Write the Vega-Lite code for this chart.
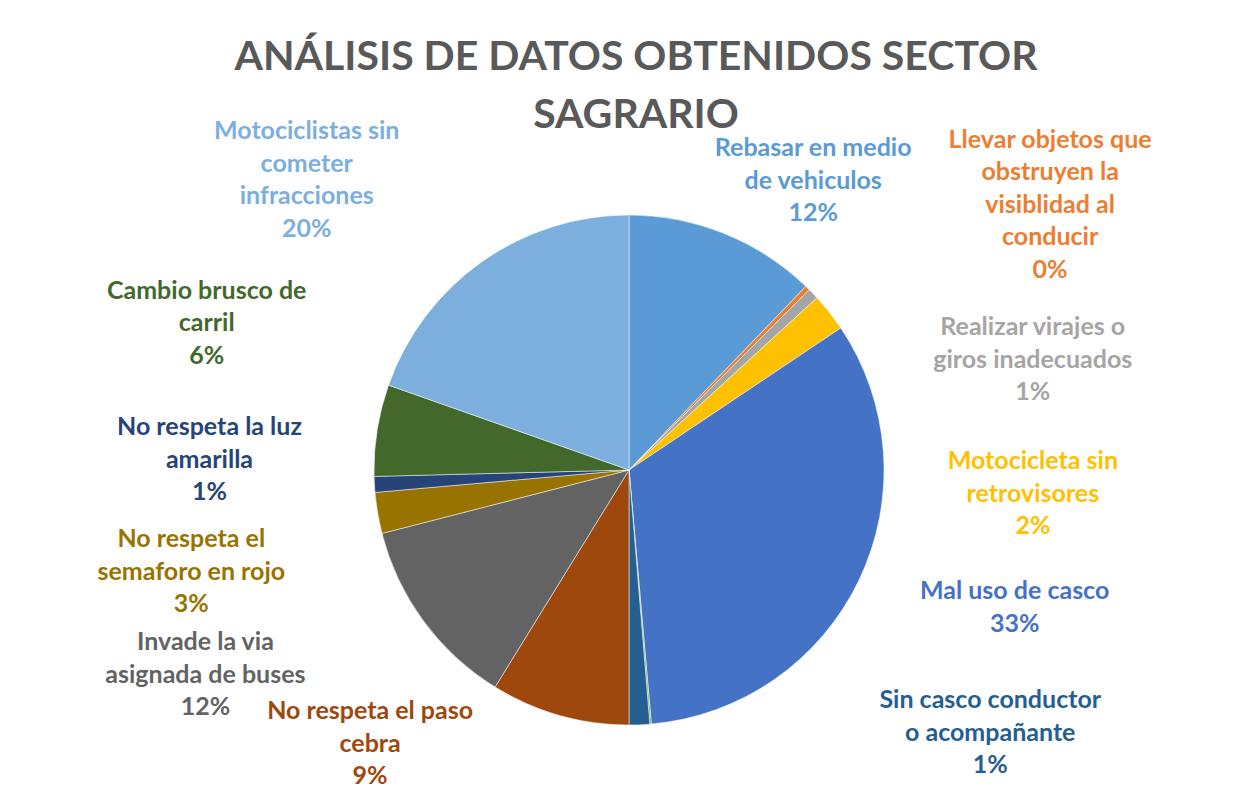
{
  "$schema": "https://vega.github.io/schema/vega-lite/v6.json",
  "autosize": "none",
  "width": 1234,
  "height": 646,
  "padding": {"top": 147, "left": 12, "right": 0, "bottom": 0},
  "background": "white",
  "config": {"view": {"stroke": null}},
  "title": {
    "text": ["ANÁLISIS DE DATOS OBTENIDOS SECTOR", "SAGRARIO"],
    "font": "Lato",
    "fontSize": 41,
    "fontWeight": "bold",
    "color": "#595959",
    "lineHeight": 58,
    "anchor": "middle",
    "dx": 7,
    "offset": -90
  },
  "data": {
    "values": [
      {"k": 1, "cat": "Rebasar en medio de vehiculos", "pct": 12.2, "label": "Rebasar en medio\nde vehiculos\n12%"},
      {"k": 2, "cat": "Llevar objetos que obstruyen la visiblidad al conducir", "pct": 0.3, "label": "Llevar objetos que\nobstruyen la\nvisiblidad al\nconducir\n0%"},
      {"k": 3, "cat": "Realizar virajes o giros inadecuados", "pct": 0.7, "label": "Realizar virajes o\ngiros inadecuados\n1%"},
      {"k": 4, "cat": "Motocicleta sin retrovisores", "pct": 2.4, "label": "Motocicleta sin\nretrovisores\n2%"},
      {"k": 5, "cat": "Mal uso de casco", "pct": 33.0, "label": "Mal uso de casco\n33%"},
      {"k": 6, "cat": "Otro", "pct": 0.1, "label": ""},
      {"k": 7, "cat": "Sin casco conductor o acompañante", "pct": 1.3, "label": "Sin casco conductor\no acompañante\n1%"},
      {"k": 8, "cat": "No respeta el paso cebra", "pct": 8.8, "label": "No respeta el paso\ncebra\n9%"},
      {"k": 9, "cat": "Invade la via asignada de buses", "pct": 12.2, "label": "Invade la via\nasignada de buses\n12%"},
      {"k": 10, "cat": "No respeta el semaforo en rojo", "pct": 2.6, "label": "No respeta el\nsemaforo en rojo\n3%"},
      {"k": 11, "cat": "No respeta la luz amarilla", "pct": 1.0, "label": "No respeta la luz\namarilla\n1%"},
      {"k": 12, "cat": "Cambio brusco de carril", "pct": 5.8, "label": "Cambio brusco de\ncarril\n6%"},
      {"k": 13, "cat": "Motociclistas sin cometer infracciones", "pct": 19.6, "label": "Motociclistas sin\ncometer\ninfracciones\n20%"}
    ]
  },
  "encoding": {
    "theta": {"field": "pct", "type": "quantitative", "stack": true},
    "order": {"field": "k", "type": "quantitative"},
    "color": {
      "field": "cat",
      "type": "nominal",
      "legend": null,
      "scale": {
        "domain": ["Rebasar en medio de vehiculos", "Llevar objetos que obstruyen la visiblidad al conducir", "Realizar virajes o giros inadecuados", "Motocicleta sin retrovisores", "Mal uso de casco", "Otro", "Sin casco conductor o acompañante", "No respeta el paso cebra", "Invade la via asignada de buses", "No respeta el semaforo en rojo", "No respeta la luz amarilla", "Cambio brusco de carril", "Motociclistas sin cometer infracciones"],
        "range": ["#5B9BD5", "#ED7D31", "#A5A5A5", "#FFC000", "#4472C4", "#70AD47", "#255E91", "#9E480E", "#636363", "#997300", "#264478", "#43682B", "#7CAFDD"]
      }
    }
  },
  "layer": [
    {"mark": {"type": "arc", "outerRadius": 255, "stroke": "white", "strokeWidth": 0.5}},
    {"mark": {"type": "text", "radius": 300, "dx": 72, "dy": -43.5, "font": "Lato", "fontSize": 25, "fontWeight": "bold", "lineBreak": "\n", "lineHeight": 32.5, "align": "center", "baseline": "middle"},
     "encoding": {"text": {"condition": {"test": "datum.k === 1", "field": "label"}, "value": ""}}},
    {"mark": {"type": "text", "radius": 300, "dx": 211, "dy": -116, "font": "Lato", "fontSize": 25, "fontWeight": "bold", "lineBreak": "\n", "lineHeight": 32.5, "align": "center", "baseline": "middle"},
     "encoding": {"text": {"condition": {"test": "datum.k === 2", "field": "label"}, "value": ""}}},
    {"mark": {"type": "text", "radius": 300, "dx": 187, "dy": 64.5, "font": "Lato", "fontSize": 25, "fontWeight": "bold", "lineBreak": "\n", "lineHeight": 32.5, "align": "center", "baseline": "middle"},
     "encoding": {"text": {"condition": {"test": "datum.k === 3", "field": "label"}, "value": ""}}},
    {"mark": {"type": "text", "radius": 300, "dx": 168, "dy": 176.5, "font": "Lato", "fontSize": 25, "fontWeight": "bold", "lineBreak": "\n", "lineHeight": 32.5, "align": "center", "baseline": "middle"},
     "encoding": {"text": {"condition": {"test": "datum.k === 4", "field": "label"}, "value": ""}}},
    {"mark": {"type": "text", "radius": 300, "dx": 115, "dy": -8.25, "font": "Lato", "fontSize": 25, "fontWeight": "bold", "lineBreak": "\n", "lineHeight": 32.5, "align": "center", "baseline": "middle"},
     "encoding": {"text": {"condition": {"test": "datum.k === 5", "field": "label"}, "value": ""}}},
    {"mark": {"type": "text", "radius": 300, "dx": 349, "dy": -69.5, "font": "Lato", "fontSize": 25, "fontWeight": "bold", "lineBreak": "\n", "lineHeight": 32.5, "align": "center", "baseline": "middle"},
     "encoding": {"text": {"condition": {"test": "datum.k === 7", "field": "label"}, "value": ""}}},
    {"mark": {"type": "text", "radius": 300, "dx": -177, "dy": -47.5, "font": "Lato", "fontSize": 25, "fontWeight": "bold", "lineBreak": "\n", "lineHeight": 32.5, "align": "center", "baseline": "middle"},
     "encoding": {"text": {"condition": {"test": "datum.k === 8", "field": "label"}, "value": ""}}},
    {"mark": {"type": "text", "radius": 300, "dx": -182, "dy": -5.5, "font": "Lato", "fontSize": 25, "fontWeight": "bold", "lineBreak": "\n", "lineHeight": 32.5, "align": "center", "baseline": "middle"},
     "encoding": {"text": {"condition": {"test": "datum.k === 9", "field": "label"}, "value": ""}}},
    {"mark": {"type": "text", "radius": 300, "dx": -142, "dy": 18.5, "font": "Lato", "fontSize": 25, "fontWeight": "bold", "lineBreak": "\n", "lineHeight": 32.5, "align": "center", "baseline": "middle"},
     "encoding": {"text": {"condition": {"test": "datum.k === 10", "field": "label"}, "value": ""}}},
    {"mark": {"type": "text", "radius": 300, "dx": -120, "dy": -59.5, "font": "Lato", "fontSize": 25, "fontWeight": "bold", "lineBreak": "\n", "lineHeight": 32.5, "align": "center", "baseline": "middle"},
     "encoding": {"text": {"condition": {"test": "datum.k === 11", "field": "label"}, "value": ""}}},
    {"mark": {"type": "text", "radius": 300, "dx": -126, "dy": -132.5, "font": "Lato", "fontSize": 25, "fontWeight": "bold", "lineBreak": "\n", "lineHeight": 32.5, "align": "center", "baseline": "middle"},
     "encoding": {"text": {"condition": {"test": "datum.k === 12", "field": "label"}, "value": ""}}},
    {"mark": {"type": "text", "radius": 300, "dx": -149, "dy": -93.75, "font": "Lato", "fontSize": 25, "fontWeight": "bold", "lineBreak": "\n", "lineHeight": 32.5, "align": "center", "baseline": "middle"},
     "encoding": {"text": {"condition": {"test": "datum.k === 13", "field": "label"}, "value": ""}}}
  ]
}
